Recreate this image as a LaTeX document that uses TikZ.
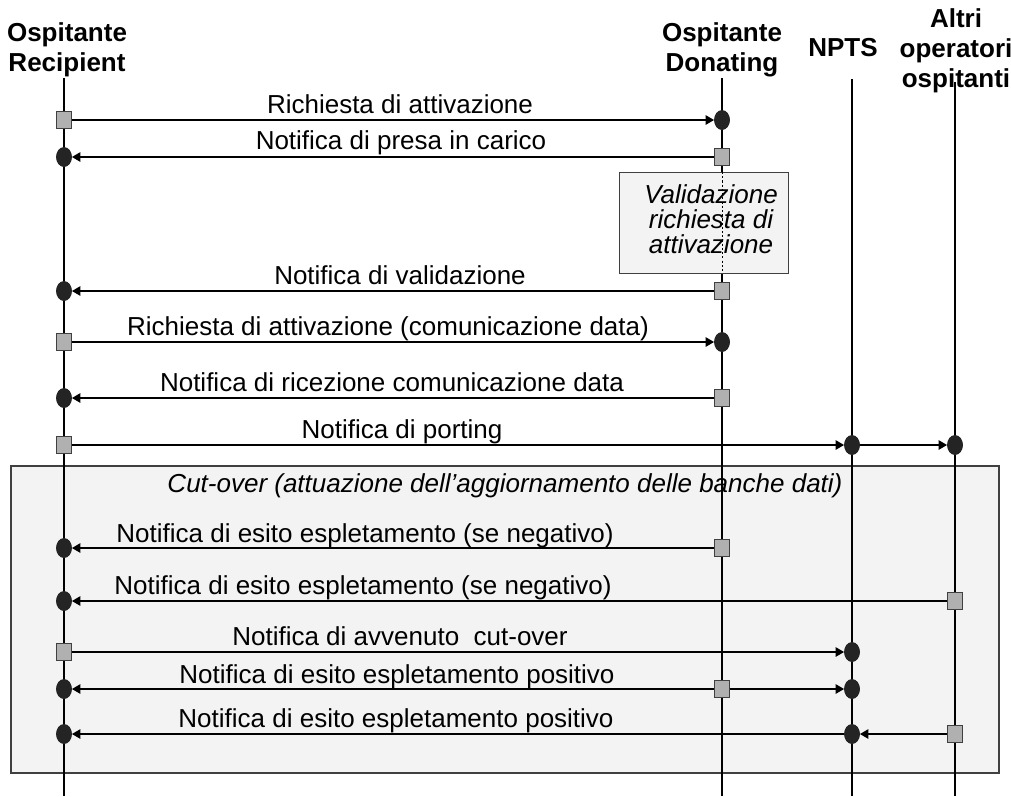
\documentclass[tikz,border=0pt]{standalone}
\usepackage{fontspec}
\setmainfont{Liberation Sans}
\usetikzlibrary{arrows.meta}
\usetikzlibrary{shapes.geometric}

\definecolor{boxfill}{HTML}{F3F3F3}
\definecolor{sendfill}{HTML}{B0B0B0}
\definecolor{dotfill}{HTML}{242424}
\definecolor{rimgray}{HTML}{404040}

\newcommand{\dsize}{\fontsize{14.8pt}{17pt}\selectfont}

\tikzset{
  sendbox/.style={draw=rimgray, fill=sendfill, line width=0.5pt, rectangle,
       minimum width=0.3cm, minimum height=0.34cm, inner sep=0pt},
  recvdot/.style={draw=dotfill, fill=dotfill, line width=0.5pt, ellipse,
       minimum width=0.3cm, minimum height=0.38cm, inner sep=0pt},
  msg/.style={line width=0.8pt, -{Triangle[length=0.17cm,width=0.19cm]}},
  life/.style={line width=0.6pt},
  head/.style={font=\dsize\bfseries, align=center, inner sep=0pt, anchor=base},
  lbl/.style={font=\dsize, inner sep=0pt, anchor=base}
}

\begin{document}
\begin{tikzpicture}[x=0.02cm, y=-0.02cm]

\useasboundingbox[fill=white] (0,0) rectangle (1011,796);

% cut-over box
\draw[draw=rimgray, fill=boxfill, line width=0.6pt] (11,466) rectangle (999,773);
\node[lbl, font=\dsize\itshape] (cut) at (505,492)
  {Cut-over (attuazione dell'aggiornamento delle banche dati)};

% headers (base = last line)
\node[head] (hR) at (67,71) {Ospitante\\Recipient};
\node[head] (hD) at (722,71) {Ospitante\\Donating};
\node[head] (hN) at (843,56) {NPTS};
\node[head] (hA) at (956,87) {Altri\\operatori\\ospitanti};

% lifelines
\coordinate (tR) at (64,78);   \coordinate (bR) at (64,796);
\coordinate (tD) at (722,78);  \coordinate (bD) at (722,796);
\coordinate (tN) at (852,79);  \coordinate (bN) at (852,796);
\coordinate (tA) at (955,82);  \coordinate (bA) at (955,796);
\draw[life] (tR) -- (bR);
\draw[life] (tD) -- (bD);
\draw[life] (tN) -- (bN);
\draw[life] (tA) -- (bA);

% validazione
\draw[draw=rimgray, fill=boxfill, line width=0.5pt] (619,172) rectangle (788,273);
\draw[life, line width=0.5pt, dash pattern=on 1.2pt off 1.2pt] (722,172) -- (722,273);
\node[align=center, inner sep=0pt, anchor=base,
      font=\fontsize{14.8pt}{14pt}\selectfont\itshape] (val) at (711,253)
  {Validazione\\richiesta di\\attivazione};

% markers
\node[sendbox] (r1) at (64,120) {};   \node[recvdot] (d1) at (722,120) {};
\node[recvdot] (r2) at (64,157) {};   \node[sendbox] (d2) at (722,157) {};
\node[recvdot] (r4) at (64,291) {};   \node[sendbox] (d4) at (722,291) {};
\node[sendbox] (r5) at (64,342) {};   \node[recvdot] (d5) at (722,342) {};
\node[recvdot] (r6) at (64,398) {};   \node[sendbox] (d6) at (722,398) {};
\node[sendbox] (r7) at (64,445) {};   \node[recvdot] (n7) at (852,445) {};
\node[recvdot] (a7) at (955,445) {};
\node[recvdot] (r9) at (64,548) {};   \node[sendbox] (d9) at (722,548) {};
\node[recvdot] (r10) at (64,601) {};  \node[sendbox] (a10) at (955,601) {};
\node[sendbox] (r11) at (64,652) {};  \node[recvdot] (n11) at (852,652) {};
\node[recvdot] (r12) at (64,689) {};  \node[sendbox] (d12) at (722,689) {};
\node[recvdot] (n12) at (852,689) {};
\node[recvdot] (r13) at (64,734) {};  \node[recvdot] (n13) at (852,734) {};
\node[sendbox] (a13) at (955,734) {};

% messages
\draw[msg] (r1) -- (d1);
\draw[msg] (d2) -- (r2);
\draw[msg] (d4) -- (r4);
\draw[msg] (r5) -- (d5);
\draw[msg] (d6) -- (r6);
\draw[msg] (r7) -- (n7);
\draw[msg] (n7) -- (a7);
\draw[msg] (d9) -- (r9);
\draw[msg] (a10) -- (r10);
\draw[msg] (r11) -- (n11);
\draw[msg] (d12) -- (r12);
\draw[msg] (d12) -- (n12);
\draw[msg] (a13) -- (n13);
\draw[msg] (n13) -- (r13);

% labels
\node[lbl] (l1) at (400,113) {Richiesta di attivazione};
\node[lbl] (l2) at (401,149) {Notifica di presa in carico};
\node[lbl] (l4) at (400,284) {Notifica di validazione};
\node[lbl] (l5) at (388,335) {Richiesta di attivazione (comunicazione data)};
\node[lbl] (l6) at (392,391) {Notifica di ricezione comunicazione data};
\node[lbl] (l7) at (402,438) {Notifica di porting};
\node[lbl] (l9) at (365,542) {Notifica di esito espletamento (se negativo)};
\node[lbl] (l10) at (363,594) {Notifica di esito espletamento (se negativo)};
\node[lbl] (l11) at (400,645) {Notifica di avvenuto~ cut-over};
\node[lbl] (l12) at (397,683) {Notifica di esito espletamento positivo};
\node[lbl] (l13) at (396,727) {Notifica di esito espletamento positivo};
\end{tikzpicture}
\end{document}
